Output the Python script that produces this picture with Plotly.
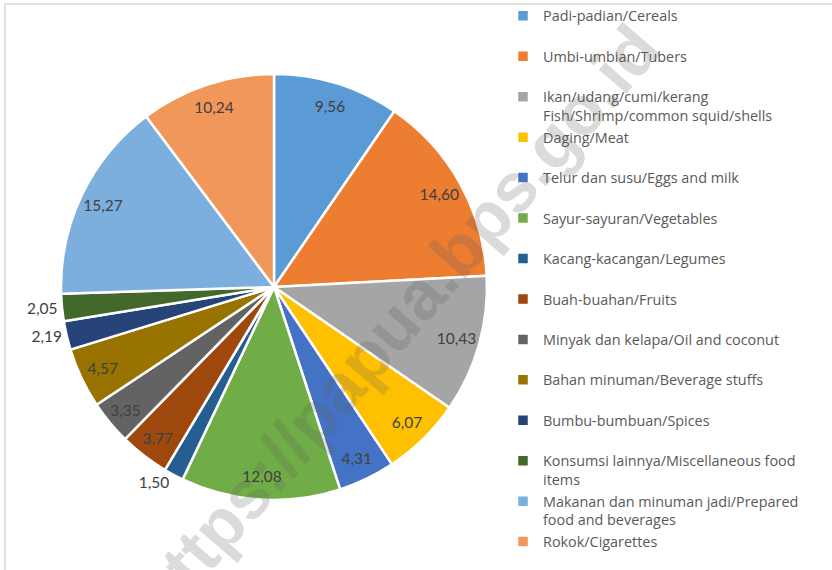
import plotly.graph_objects as go

# Food expenditure shares by commodity group (percent)
categories = [
    "Padi-padian/Cereals",
    "Umbi-umbian/Tubers",
    "Ikan/udang/cumi/kerang<br>Fish/Shrimp/common squid/shells",
    "Daging/Meat",
    "Telur dan susu/Eggs and milk",
    "Sayur-sayuran/Vegetables",
    "Kacang-kacangan/Legumes",
    "Buah-buahan/Fruits",
    "Minyak dan kelapa/Oil and coconut",
    "Bahan minuman/Beverage stuffs",
    "Bumbu-bumbuan/Spices",
    "Konsumsi lainnya/Miscellaneous food<br>items",
    "Makanan dan minuman jadi/Prepared<br>food and beverages",
    "Rokok/Cigarettes",
]
shares = [9.56, 14.60, 10.43, 6.07, 4.31, 12.08, 1.50, 3.77, 3.35, 4.57, 2.19, 2.05, 15.27, 10.24]

colors = [
    "#5B9BD5", "#ED7D31", "#A5A5A5", "#FFC000", "#4472C4", "#70AD47",
    "#255E91", "#9E480E", "#636363", "#997300", "#264478", "#43682B",
    "#7CAFDD", "#F1975A",
]

# small slices get their value printed outside the pie
label_pos = ["outside" if v < 2.5 else "inside" for v in shares]

# every legend entry (except the last) takes two text lines so rows are evenly spaced
legend_labels = [
    c if ("<br>" in c or i == len(categories) - 1) else c + "<br>\u00a0"
    for i, c in enumerate(categories)
]

domain = dict(x=[61 / 832, 487 / 832], y=[70 / 570, 496 / 570])

fig = go.Figure()

# the pie itself
fig.add_trace(go.Pie(
    labels=legend_labels,
    values=shares,
    sort=False,
    direction="clockwise",
    rotation=0,
    marker=dict(colors=colors, line=dict(color="white", width=2.5)),
    textinfo="none",
    hoverinfo="label+value",
    domain=domain,
    showlegend=True,
))

# transparent ring on top carrying the value labels near the rim
fig.add_trace(go.Pie(
    labels=legend_labels,
    values=shares,
    sort=False,
    direction="clockwise",
    rotation=0,
    hole=0.78,
    marker=dict(colors=["rgba(0,0,0,0)"] * len(shares), line=dict(width=0)),
    texttemplate="%{value:.2f}",
    textposition=label_pos,
    insidetextorientation="horizontal",
    textfont=dict(family="Lato", size=15.5, color="#404040"),
    hoverinfo="skip",
    domain=domain,
    showlegend=False,
))

fig.update_layout(
    width=832,
    height=570,
    margin=dict(l=0, r=0, t=0, b=0),
    paper_bgcolor="white",
    plot_bgcolor="white",
    separators=",.",
    uniformtext=dict(minsize=15.5, mode="show"),
    legend=dict(
        x=503 / 832,
        y=1.0,
        xanchor="left",
        yanchor="top",
        valign="top",
        font=dict(family="Open Sans", size=14.4, color="#595959"),
        bgcolor="rgba(0,0,0,0)",
        traceorder="normal",
        maxheight=1,
    ),
    shapes=[
        dict(type="rect", xref="paper", yref="paper",
             x0=5 / 832, x1=1.05, y0=-0.05, y1=1 - 4 / 570,
             line=dict(color="#D9D9D9", width=1.5), layer="below"),
    ],
    annotations=[
        dict(text="https://papua.bps.go.id", xref="paper", yref="paper",
             x=396 / 832, y=1 - 322 / 570, showarrow=False, textangle=-49,
             font=dict(family="Liberation Sans", size=69, weight="bold",
                       color="rgba(90,90,90,0.22)"),
             xanchor="center", yanchor="middle"),
    ],
)

fig.write_html("out.html")
